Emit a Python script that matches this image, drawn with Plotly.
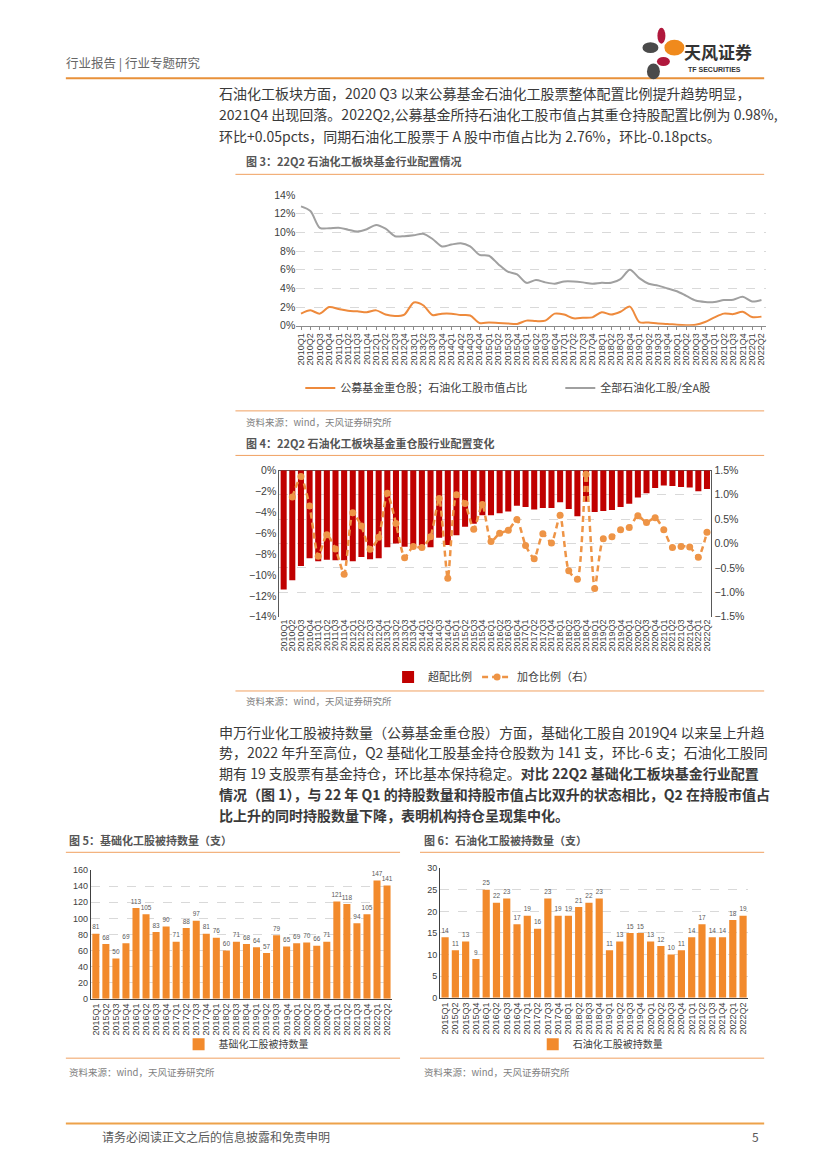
import plotly.graph_objects as go

W, H = 827, 1169
OFF = 8  # page body margin compensation
def fx(x): return (x - OFF) / W
def fy(y): return 1 - (y - OFF) / H

# ---------------- data ----------------
quarters_50 = [f"{y}Q{q}" for y in range(2010, 2023) for q in range(1, 5)][:50]
quarters_30 = [f"{y}Q{q}" for y in range(2015, 2023) for q in range(1, 5)][:30]

# Fig 3 (%)
fund_petro_share = [1.3, 1.65, 1.3, 2.0, 1.8, 1.6, 1.55, 1.45, 1.65, 1.2,
                    1.05, 1.2, 2.5, 2.2, 1.15, 1.3, 1.3, 1.15, 1.1, 0.3,
                    0.35, 0.3, 0.25, 0.2, 0.55, 0.5, 0.55, 1.3, 1.2, 0.8,
                    0.85, 0.9, 1.45, 1.2, 1.5, 2.05, 0.4, 0.35, 0.25, 0.2,
                    0.1, 0.05, 0.1, 0.4, 0.9, 1.3, 1.25, 1.5, 0.93, 0.98]
petro_in_a_share = [12.8, 12.3, 10.5, 10.45, 10.5, 10.3, 10.1, 10.35, 10.8, 10.4,
                    9.6, 9.6, 9.7, 9.85, 9.3, 8.5, 8.7, 8.85, 8.5, 7.6,
                    7.5, 6.6, 5.8, 5.5, 4.6, 4.9, 4.65, 4.5, 4.75, 4.75,
                    4.65, 4.5, 4.6, 4.6, 5.0, 6.0, 5.1, 4.5, 4.3, 4.0,
                    3.7, 3.2, 2.7, 2.55, 2.55, 2.75, 2.8, 3.1, 2.6, 2.76]

# Fig 4 (%)
overweight = [-11.4, -10.5, -9.15, -8.4, -8.7, -8.55, -8.6, -8.6, -8.7, -8.3,
              -8.5, -8.4, -7.35, -7.0, -7.3, -7.15, -7.2, -7.35, -6.45, -7.15,
              -6.2, -5.4, -5.1, -4.3, -4.3, -4.1, -3.95, -3.4, -3.5, -3.75,
              -3.6, -3.6, -3.05, -3.7, -4.4, -3.0, -4.0, -3.9, -3.8, -3.5,
              -3.2, -2.6, -2.2, -1.7, -1.45, -1.5, -1.6, -1.65, -2.0, -1.78]
add_position = [None, 0.95, 1.37, 0.77, -0.26, 0.18, -0.11, -0.63, 0.63, 0.36,
                -0.12, 0.13, 1.03, 0.41, -0.29, -0.06, -0.08, 0.14, 0.92, -0.71,
                1.0, 0.82, 0.29, 0.8, 0.04, 0.21, 0.27, 0.49, -0.04, -0.31,
                0.2, 0.01, 0.58, -0.56, -0.73, 1.42, -0.92, 0.1, 0.14, 0.28,
                0.33, 0.57, 0.43, 0.53, 0.28, -0.08, -0.06, -0.07, -0.28, 0.23]

# Fig 5 / Fig 6 (count)
basic_chem_count = [81, 68, 50, 69, 113, 105, 83, 90, 71, 88,
                    97, 81, 76, 60, 71, 68, 64, 57, 79, 65,
                    69, 70, 66, 71, 121, 118, 94, 105, 147, 141]
petro_chem_count = [14, 11, 13, 9, 25, 22, 23, 17, 19, 16,
                    23, 19, 19, 21, 22, 23, 11, 13, 15, 15,
                    13, 12, 10, 11, 14, 17, 14, 14, 18, 19]

# ---------------- style ----------------
FONT = "Liberation Sans, Noto Sans CJK SC, sans-serif"
CJK = "Noto Sans CJK SC, sans-serif"
ORANGE = "#EE8A3C"
BAR_ORANGE = "#F28A2C"
GRAY_LINE = "#A0A0A0"
RED = "#C00000"
LINE_ORANGE = "#EE9446"
TXT = "#404040"
GRID = "#D9D9D9"

fig = go.Figure()

fig.add_trace(go.Scatter(x=quarters_50, y=fund_petro_share, mode="lines",
                         name="公募基金重仓股；石油化工股市值占比",
                         line=dict(color=ORANGE, width=2, shape="spline", smoothing=0.8),
                         xaxis="x", yaxis="y", legend="legend"))
fig.add_trace(go.Scatter(x=quarters_50, y=petro_in_a_share, mode="lines",
                         name="全部石油化工股/全A股",
                         line=dict(color=GRAY_LINE, width=2, shape="spline", smoothing=0.8),
                         xaxis="x", yaxis="y", legend="legend"))

fig.add_trace(go.Bar(x=quarters_50, y=overweight, name="超配比例",
                     marker=dict(color=RED, line=dict(width=0)),
                     xaxis="x2", yaxis="y2", legend="legend2"))
fig.add_trace(go.Scatter(x=quarters_50, y=add_position, mode="lines+markers",
                         name="加仓比例（右）",
                         line=dict(color=LINE_ORANGE, width=2.5, dash="6px,4px",
                                   shape="spline", smoothing=0.6),
                         marker=dict(color=LINE_ORANGE, size=7),
                         xaxis="x2", yaxis="y3", legend="legend2"))

fig.add_trace(go.Bar(x=quarters_30, y=basic_chem_count, name="基础化工股被持数量",
                     marker=dict(color=BAR_ORANGE, line=dict(width=0)),
                     text=basic_chem_count, textposition="outside", cliponaxis=False,
                     textfont=dict(size=9.5, color="#595959"),
                     xaxis="x3", yaxis="y4", legend="legend3"))
fig.add_trace(go.Bar(x=quarters_30, y=petro_chem_count, name="石油化工股被持数量",
                     marker=dict(color=BAR_ORANGE, line=dict(width=0)),
                     text=petro_chem_count, textposition="outside", cliponaxis=False,
                     textfont=dict(size=9.5, color="#595959"),
                     xaxis="x4", yaxis="y5", legend="legend4"))

cat_x = dict(type="category", tickangle=-90, tickfont=dict(size=9, color=TXT),
             tickmode="linear", dtick=1, tick0=0,
             showgrid=False, zeroline=False, fixedrange=True)

layout = dict(
    width=W, height=H, autosize=False,
    margin=dict(l=0, r=0, t=0, b=0),
    paper_bgcolor="white", plot_bgcolor="white",
    font=dict(family=FONT, color=TXT),
    showlegend=True,
    bargap=0.3,
    uniformtext=dict(minsize=6, mode="show"),
    xaxis=dict(cat_x, domain=[fx(296), fx(767)], anchor="y", range=[-0.5, 49.5],
               showline=True, linecolor="#8C8C8C", linewidth=1,
               ticks="outside", ticklen=3, tickcolor="#8C8C8C"),
    yaxis=dict(domain=[fy(323), fy(191)], anchor="x", range=[0, 14], dtick=2,
               ticksuffix="%", showgrid=True, gridcolor=GRID, griddash="dash",
               zeroline=False, showline=False, tickfont=dict(size=10.5, color=TXT)),
    xaxis2=dict(cat_x, domain=[fx(279), fx(712)], anchor="y2", range=[-0.5, 49.5],
                showline=False, ticks=""),
    yaxis2=dict(domain=[fy(617), fy(469)], anchor="x2", range=[-14, 0], dtick=2,
                ticksuffix="%", showgrid=False, zeroline=True, zerolinecolor="#595959",
                zerolinewidth=1, showline=True, linecolor="#595959",
                tickfont=dict(size=10.5, color=TXT)),
    yaxis3=dict(domain=[fy(617), fy(469)], anchor="x2", overlaying="y2", side="right",
                range=[-1.5, 1.5], dtick=0.5, tickformat=".1f", ticksuffix="%",
                showgrid=True, gridcolor=GRID, griddash="dash", zeroline=False,
                showline=True, linecolor="#595959", tickfont=dict(size=10.5, color=TXT)),
    xaxis3=dict(cat_x, domain=[fx(90), fx(392)], anchor="y4", range=[-0.5, 29.5],
                showline=True, linecolor="#404040", ticks=""),
    yaxis4=dict(domain=[fy(1003), fy(873)], anchor="x3", range=[0, 160], dtick=20,
                showgrid=True, gridcolor=GRID, griddash="dash", zeroline=False,
                showline=True, linecolor="#404040", tickfont=dict(size=9, color=TXT)),
    xaxis4=dict(cat_x, domain=[fx(440), fx(749)], anchor="y5", range=[-0.5, 29.5],
                showline=True, linecolor="#404040", ticks=""),
    yaxis5=dict(domain=[fy(1002), fy(871)], anchor="x4", range=[0, 30], dtick=5,
                showgrid=True, gridcolor=GRID, griddash="dash", zeroline=False,
                showline=True, linecolor="#404040", tickfont=dict(size=9, color=TXT)),
    legend=dict(orientation="h", x=fx(300), y=fy(386), xanchor="left", yanchor="middle",
                font=dict(size=11, family=CJK, color=TXT), entrywidth=215,
                bgcolor="rgba(0,0,0,0)"),
    legend2=dict(orientation="h", x=fx(388), y=fy(678), xanchor="left", yanchor="middle",
                 font=dict(size=11, family=CJK, color=TXT), bgcolor="rgba(0,0,0,0)"),
    legend3=dict(orientation="h", x=fx(178), y=fy(1049), xanchor="left", yanchor="middle",
                 font=dict(size=10, family=CJK, color=TXT), bgcolor="rgba(0,0,0,0)"),
    legend4=dict(orientation="h", x=fx(533), y=fy(1049), xanchor="left", yanchor="middle",
                 font=dict(size=10, family=CJK, color=TXT), bgcolor="rgba(0,0,0,0)"),
)
fig.update_layout(**layout)

# ---------------- page text ----------------
ann = []
def text(x, y, s, size=12, color=TXT, anchor="left", family=CJK):
    ann.append(dict(x=fx(x), y=fy(y), xref="paper", yref="paper", text=s,
                    showarrow=False, xanchor=anchor, yanchor="middle", borderpad=0,
                    font=dict(size=size, color=color, family=family)))

text(64, 57, "行业报告 | 行业专题研究", size=12.5, color="#666666")
text(684, 46, "<b>天风证券</b>", size=17, color="#333333")
text(688, 64, "<b>TF SECURITIES</b>", size=7, color="#333333", family="Liberation Sans Narrow, Liberation Sans")

para1 = ["石油化工板块方面，2020 Q3 以来公募基金石油化工股票整体配置比例提升趋势明显，",
         "2021Q4 出现回落。2022Q2,公募基金所持石油化工股市值占其重仓持股配置比例为 0.98%,",
         "环比+0.05pcts，同期石油化工股票于 A 股中市值占比为 2.76%，环比-0.18pcts。"]
for i, s in enumerate(para1):
    text(218, 88 + i * 21.5, s, size=14, color="#3A3A3A")

para2 = ["申万行业化工股被持数量（公募基金重仓股）方面，基础化工股自 2019Q4 以来呈上升趋",
         "势，2022 年升至高位，Q2 基础化工股基金持仓股数为 141 支，环比-6 支；石油化工股同",
         "期有 19 支股票有基金持仓，环比基本保持稳定。<b>对比 22Q2 基础化工板块基金行业配置</b>",
         "<b>情况（图 1），与 22 年 Q1 的持股数量和持股市值占比双升的状态相比，Q2 在持股市值占</b>",
         "<b>比上升的同时持股数量下降，表明机构持仓呈现集中化。</b>"]
for i, s in enumerate(para2):
    text(218, 733 + i * 21, s, size=14, color="#3A3A3A")

text(245, 157, "<b>图 3：22Q2 石油化工板块基金行业配置情况</b>", size=11, color="#555555")
text(245, 441, "<b>图 4：22Q2 石油化工板块基金重仓股行业配置变化</b>", size=11, color="#555555")
text(67, 843, "<b>图 5：基础化工股被持数量（支）</b>", size=11, color="#555555")
text(423, 843, "<b>图 6：石油化工股被持数量（支）</b>", size=11, color="#555555")

src = "资料来源：wind，天风证券研究所"
text(245, 420, src, size=9.5, color="#7F7F7F")
text(245, 702, src, size=9.5, color="#7F7F7F")
text(67, 1077, src, size=9.5, color="#7F7F7F")
text(423, 1077, src, size=9.5, color="#7F7F7F")

text(100, 1142, "请务必阅读正文之后的信息披露和免责申明", size=12, color="#595959")
text(752, 1142, "5", size=12, color="#595959")

fig.update_layout(annotations=ann)

# ---------------- page rules & logo ----------------
shapes = []
def hline(x0, x1, y, color="#F0A060", width=1):
    shapes.append(dict(type="line", xref="paper", yref="paper", x0=fx(x0), x1=fx(x1),
                       y0=fy(y), y1=fy(y), line=dict(color=color, width=width)))

hline(65, 765, 73, color="#E8913A", width=2)
hline(235, 765, 170)
hline(235, 765, 409)
hline(235, 765, 454)
hline(235, 765, 692)
hline(65, 400, 855)
hline(420, 765, 855)
hline(65, 400, 1063)
hline(420, 765, 1063)
hline(65, 765, 1129, color="#EDA24A", width=2)

def blob(cx, cy, rx, ry, color):
    shapes.append(dict(type="circle", xref="paper", yref="paper",
                       x0=fx(cx - rx), x1=fx(cx + rx), y0=fy(cy + ry), y1=fy(cy - ry),
                       fillcolor=color, line=dict(width=0)))

blob(662, 30, 4, 8, "#B0183C")
blob(675, 42, 10, 8, "#F08A1C")
blob(651, 42, 8, 5.5, "#4A4A4A")
blob(664, 56, 6.5, 4.5, "#B0183C")
blob(654, 66, 6.5, 8, "#4A4A4A")

fig.update_layout(shapes=shapes)

fig.write_html("out.html")
